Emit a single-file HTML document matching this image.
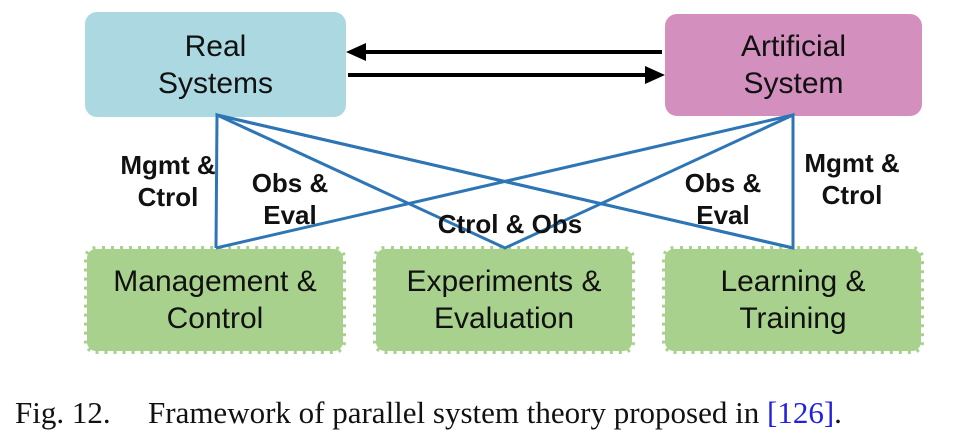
<!DOCTYPE html>
<html><head><style>
body{margin:0;background:#fff;width:956px;height:442px;overflow:hidden;position:relative;font-family:"Liberation Sans",sans-serif}
.b{position:absolute;display:flex;align-items:center;justify-content:center;text-align:center;font-size:30px;line-height:37px;color:#111;box-sizing:border-box}
.g{background:#a9d18e;border:3px dashed #fff;border-radius:12px}
.l{position:absolute;font-weight:bold;font-size:26px;line-height:32px;text-align:center;color:#111;white-space:nowrap}
.c{position:absolute;top:396px;font-family:'Liberation Serif',serif;font-size:31px;line-height:34px;color:#111;white-space:nowrap}
</style></head><body>
<div class="b" style="left:85px;top:12px;width:261px;height:105px;background:#acd9e1;border-radius:12px">Real<br>Systems</div>
<div class="b" style="left:665px;top:14px;width:257px;height:102px;background:#d38fbd;border-radius:12px">Artificial<br>System</div>
<div class="b g" style="left:84px;top:246px;width:262px;height:108px">Management &amp;<br>Control</div>
<div class="b g" style="left:373px;top:246px;width:262px;height:108px">Experiments &amp;<br>Evaluation</div>
<div class="b g" style="left:662px;top:246px;width:262px;height:108px">Learning &amp;<br>Training</div>
<svg style="position:absolute;left:0;top:0" width="956" height="442">
<g stroke="#000" stroke-width="4" fill="#000">
<line x1="662" y1="52" x2="362" y2="52"/><polygon points="346,52 366,43 366,61" stroke="none"/>
<line x1="348" y1="75" x2="648" y2="75"/><polygon points="665,75 645,66 645,84" stroke="none"/>
</g>
<g stroke="#2e75b6" stroke-width="3" fill="none">
<polyline points="216,248 217,115 505,248 793,115 793,248 217,115"/>
<line x1="217" y1="115" x2="793" y2="248"/>
<line x1="793" y1="115" x2="216" y2="248"/>
</g>
</svg>
<div class="l" style="left:108px;top:149px;width:120px">Mgmt &amp;<br>Ctrol</div>
<div class="l" style="left:235px;top:167px;width:110px">Obs &amp;<br>Eval</div>
<div class="l" style="left:420px;top:208px;width:180px">Ctrol &amp; Obs</div>
<div class="l" style="left:668px;top:167px;width:110px">Obs &amp;<br>Eval</div>
<div class="l" style="left:792px;top:147px;width:120px">Mgmt &amp;<br>Ctrol</div>
<div class="c" style="left:15px">Fig. 12.</div>
<div class="c" style="left:148px">Framework of parallel system theory proposed in <span style="color:#2222dd">[126]</span>.</div>
</body></html>
